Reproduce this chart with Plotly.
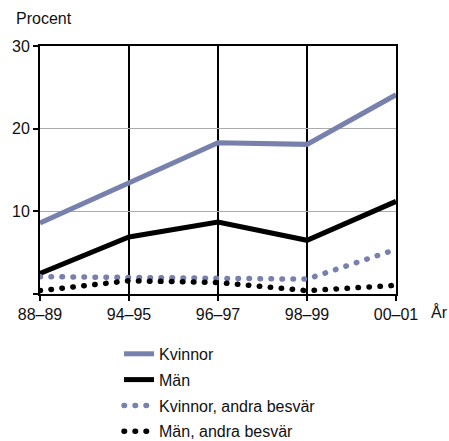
import plotly.graph_objects as go

categories = ["88–89", "94–95", "96–97", "98–99", "00–01"]
kvinnor = [8.6, 13.4, 18.3, 18.1, 24.1]
man = [2.5, 6.9, 8.7, 6.5, 11.2]
kvinnor_andra = [2.1, 2.0, 1.9, 1.8, 5.4]
man_andra = [0.4, 1.6, 1.4, 0.4, 1.05]
y_ticks = [0, 10, 20, 30]
y_ticktext = ["", "10", "20", "30"]

KCOL = "#7880ad"
FONT = "Liberation Sans, Arial, sans-serif"

fig = go.Figure()
fig.add_trace(go.Scatter(x=categories, y=kvinnor, mode="lines", name="Kvinnor",
                         legendgroup="a", line=dict(color=KCOL, width=5)))
fig.add_trace(go.Scatter(x=categories, y=man, mode="lines", name="Män",
                         legendgroup="b", line=dict(color="black", width=5)))
fig.add_trace(go.Scatter(x=categories, y=kvinnor_andra, mode="lines", name="Kvinnor, andra besvär",
                         legendgroup="c", line=dict(color=KCOL, width=5.5, dash="0.5px,10.5px")))
fig.add_trace(go.Scatter(x=categories, y=man_andra, mode="lines", name="Män, andra besvär",
                         legendgroup="d", line=dict(color="black", width=5.5, dash="0.5px,10.5px")))

fig.update_layout(
    width=449, height=441,
    margin=dict(l=40, r=53, t=46, b=147, autoexpand=False),
    paper_bgcolor="white", plot_bgcolor="white",
    font=dict(family=FONT, size=16, color="#111"),
    showlegend=True,
    legend=dict(x=0.222, xanchor="left", y=-0.173, yanchor="top",
                tracegroupgap=2, font=dict(size=16), itemwidth=30),
    xaxis=dict(type="category", range=[0, 4], showgrid=True, gridcolor="black", gridwidth=2,
               showline=True, linecolor="black", linewidth=2, mirror=True,
               ticks="outside", ticklen=5, tickwidth=2, tickcolor="black",
               tickfont=dict(size=16), fixedrange=True, automargin=False),
    yaxis=dict(range=[0, 30], tickvals=y_ticks, ticktext=y_ticktext,
               showgrid=True, gridcolor="#aaaaaa", gridwidth=1,
               showline=True, linecolor="black", linewidth=2, mirror=True,
               ticks="outside", ticklen=5, tickwidth=1.5, tickcolor="black",
               zeroline=False, tickfont=dict(size=16), fixedrange=True, automargin=False),
    annotations=[
        dict(text="Procent", xref="paper", yref="paper", x=-0.072, y=1.109,
             xanchor="left", yanchor="middle", showarrow=False, font=dict(size=16)),
        dict(text="År", xref="paper", yref="paper", x=1.094, y=-0.071,
             xanchor="left", yanchor="middle", showarrow=False, font=dict(size=16)),
    ],
)

post = """
document.body.style.margin = '0';
document.body.style.padding = '0';
function fixCaps(){
  document.querySelectorAll('path.js-line').forEach(function(p){
    var d = p.style.strokeDasharray || p.getAttribute('stroke-dasharray');
    if (d && d !== 'none' && d !== '') { p.style.strokeLinecap = 'round'; }
  });
}
fixCaps();
var gd = document.getElementById('{plot_id}');
if (gd && gd.on) { gd.on('plotly_afterplot', fixCaps); }
"""

fig.write_html("out.html", post_script=post, config={"displayModeBar": False})
